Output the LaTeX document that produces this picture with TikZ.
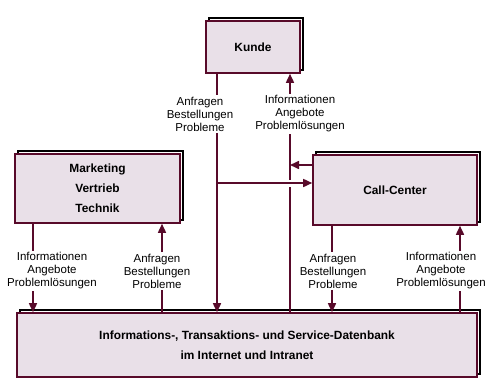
\documentclass[tikz,border=0pt]{standalone}
\usepackage{fontspec}
\setmainfont{Liberation Sans}
\usetikzlibrary{arrows.meta, positioning, shadows}

\definecolor{weinrot}{RGB}{88,10,42}
\definecolor{flieder}{RGB}{233,224,232}

\begin{document}
\begin{tikzpicture}[
    x=1pt, y=-1pt,
    box/.style={rectangle, draw=weinrot, fill=flieder, line width=1.6pt, align=center, inner sep=0pt,
        font=\bfseries\fontsize{11.9}{20}\selectfont,
        copy shadow={shadow xshift=3pt, shadow yshift=3pt, draw=black, fill=white, line width=1.6pt}},
    info/.style={align=center, inner sep=1.5pt, font=\fontsize{11.5}{13}\selectfont},
    line/.style={draw=weinrot, line width=1.6pt},
    arrow/.style={line, -{Triangle[length=9pt, width=8pt]}}
]
\useasboundingbox (0,0) rectangle (490,388);
\node[box, minimum width=94pt, minimum height=52pt] (kunde) at (253,47) {Kunde};
\node[box, minimum width=165pt, minimum height=69pt] (mk) at (97.5,188.5) {Marketing\\Vertrieb\\Technik};
\node[box, minimum width=164pt, minimum height=70pt] (cc) at (395,190) {Call-Center};
\node[box, minimum width=460pt, minimum height=64pt] (db) at (247,345) {Informations-, Transaktions- und Service-Datenbank\\im Internet und Intranet};

\node[info] (kq) at (200,114) {Anfragen\\Bestellungen\\Probleme};
\node[info] (ka) at (300,114) {Informationen\\Angebote\\Problemlösungen};
\node[info] (mi) at (52,271) {Informationen\\Angebote\\Problemlösungen};
\node[info] (ma) at (157,271) {Anfragen\\Bestellungen\\Probleme};
\node[info] (ca) at (333,271) {Anfragen\\Bestellungen\\Probleme};
\node[info] (ci) at (441,271) {Informationen\\Angebote\\Problemlösungen};

\coordinate (p1) at (217,0);
\coordinate (p2) at (290,0);
\coordinate (p3) at (33,0);
\coordinate (p4) at (162,0);
\coordinate (p5) at (332,0);
\coordinate (p6) at (460,0);
\coordinate (j1) at (217,183);
\coordinate (j2) at (290,165);

\draw[line] (kunde.south -| p1) -- (kq.north -| p1);
\draw[arrow] (kq.south -| p1) -- (db.north -| p1);
\draw[line] (db.north -| p2) -- (ka.south -| p2);
\draw[arrow] (ka.north -| p2) -- (kunde.south -| p2);
\draw[arrow] (cc.west |- j2) -- (j2);
\draw[arrow, preaction={draw=white, line width=7pt, arrows=-, shorten <=8pt, shorten >=14pt}] (j1) -- (j1 -| cc.west);

\draw[line] (mk.south -| p3) -- (mi.north -| p3);
\draw[arrow] (mi.south -| p3) -- (db.north -| p3);
\draw[line] (db.north -| p4) -- (ma.south -| p4);
\draw[arrow] (ma.north -| p4) -- (mk.south -| p4);

\draw[line] (cc.south -| p5) -- (ca.north -| p5);
\draw[arrow] (ca.south -| p5) -- (db.north -| p5);
\draw[line] (db.north -| p6) -- (ci.south -| p6);
\draw[arrow] (ci.north -| p6) -- (cc.south -| p6);
\end{tikzpicture}
\end{document}
